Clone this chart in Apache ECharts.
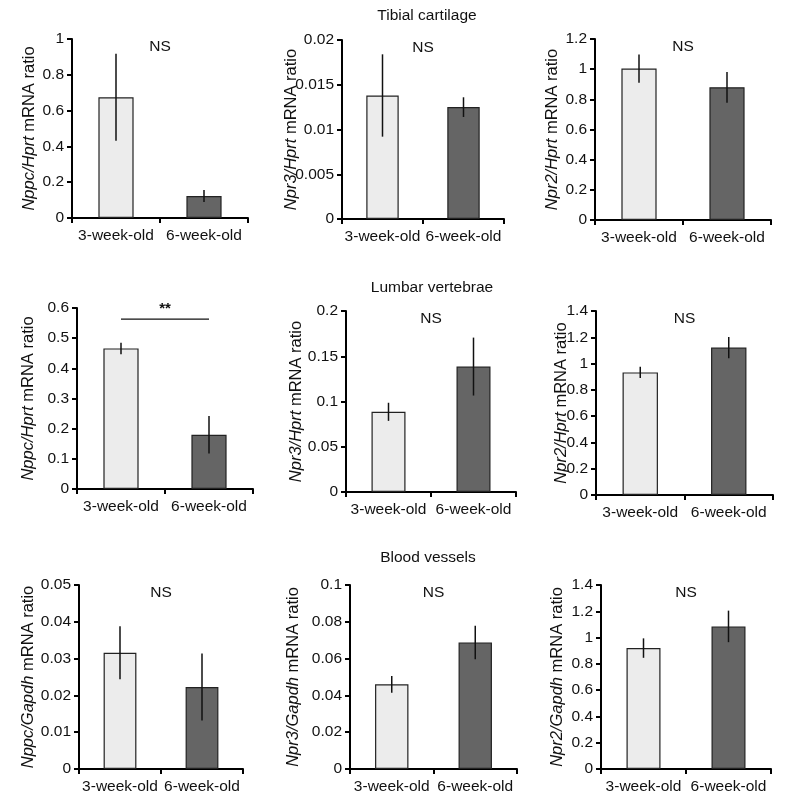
<!DOCTYPE html>
<html>
<head>
<meta charset="utf-8">
<script src="https://cdn.jsdelivr.net/npm/echarts@6/dist/echarts.min.js"></script>
<style>
  html, body { margin: 0; padding: 0; background: #fff; }
  #main { width: 787px; height: 807px; }
</style>
</head>
<body>
<div id="main"></div>
<script>
var categories = ['3-week-old', '6-week-old'];

// Tibial cartilage
var tibNppc = [0.674, 0.123];     var tibNppcErr = [0.243, 0.033];
var tibNpr3 = [0.0138, 0.0125];   var tibNpr3Err = [0.0046, 0.0011];
var tibNpr2 = [1.004, 0.880];     var tibNpr2Err = [0.094, 0.102];
// Lumbar vertebrae
var lumNppc = [0.466, 0.180];     var lumNppcErr = [0.019, 0.062];
var lumNpr3 = [0.0886, 0.1386];   var lumNpr3Err = [0.010, 0.032];
var lumNpr2 = [0.933, 1.122];     var lumNpr2Err = [0.043, 0.081];
// Blood vessels
var bvNppc = [0.0316, 0.0223];    var bvNppcErr = [0.0072, 0.0091];
var bvNpr3 = [0.0460, 0.0688];    var bvNpr3Err = [0.0046, 0.0091];
var bvNpr2 = [0.920, 1.085];      var bvNpr2Err = [0.074, 0.120];

var yMax = [1, 0.02, 1.2, 0.6, 0.2, 1.4, 0.05, 0.1, 1.4];
var yStep = [0.2, 0.005, 0.2, 0.1, 0.05, 0.2, 0.01, 0.02, 0.2];
var genes = ['Nppc/Hprt', 'Npr3/Hprt', 'Npr2/Hprt', 'Nppc/Hprt', 'Npr3/Hprt', 'Npr2/Hprt', 'Nppc/Gapdh', 'Npr3/Gapdh', 'Npr2/Gapdh'];
var sigText = ['NS', 'NS', 'NS', '**', 'NS', 'NS', 'NS', 'NS', 'NS'];
var sigLevel = 0.563; // bracket height, lumbar Nppc panel

var means = [tibNppc, tibNpr3, tibNpr2, lumNppc, lumNpr3, lumNpr2, bvNppc, bvNpr3, bvNpr2];
var errs = [tibNppcErr, tibNpr3Err, tibNpr2Err, lumNppcErr, lumNpr3Err, lumNpr2Err, bvNppcErr, bvNpr3Err, bvNpr2Err];

// layout of each panel [left, top, width, height]
var boxes = [
  [72, 39, 176, 179], [342, 40, 162, 179], [595, 39, 176, 181],
  [77, 308, 176, 181], [346, 311, 170, 181], [596, 311, 177, 184],
  [79, 585, 164, 184], [350, 585, 167, 184], [601, 585, 170, 184]
];
var nameGaps = [34, 42, 34, 40, 41, 26, 42, 48, 35];

var font = 'Liberation Sans, Arial, sans-serif';
var grids = [], xAxes = [], yAxes = [], series = [], titles = [];

titles.push({ text: 'Tibial cartilage', left: 422, top: 3, textAlign: 'center' });
titles.push({ text: 'Lumbar vertebrae', left: 427, top: 275, textAlign: 'center' });
titles.push({ text: 'Blood vessels', left: 423, top: 545, textAlign: 'center' });

for (var i = 0; i < 9; i++) {
  var b = boxes[i];
  grids.push({ left: b[0], top: b[1], width: b[2], height: b[3], containLabel: false });
  xAxes.push({
    type: 'category', gridIndex: i, data: categories,
    axisLine: { lineStyle: { color: '#000', width: 2 } },
    axisTick: { show: true, length: 5, lineStyle: { color: '#000', width: 2 }, alignWithLabel: false },
    axisLabel: { color: '#111', fontSize: 15.5, fontFamily: font, margin: 10, interval: 0, hideOverlap: false }
  });
  yAxes.push({
    type: 'value', gridIndex: i, min: 0, max: yMax[i], interval: yStep[i],
    splitLine: { show: false },
    axisLine: { show: true, lineStyle: { color: '#000', width: 2 } },
    axisTick: { show: true, length: 5, lineStyle: { color: '#000', width: 2 } },
    axisLabel: { color: '#111', fontSize: 15.5, fontFamily: font, margin: 8 },
    name: '{i|' + genes[i] + '} mRNA ratio',
    nameLocation: 'middle', nameGap: nameGaps[i], nameMoveOverlap: false,
    nameTextStyle: {
      color: '#111', fontSize: 16.5, fontFamily: font,
      rich: { i: { fontStyle: 'italic', fontSize: 16.5, fontFamily: font, color: '#111' } }
    }
  });
  series.push({
    type: 'bar', xAxisIndex: i, yAxisIndex: i, barWidth: '40%',
    data: means[i].map(function (v, k) {
      return { value: v, itemStyle: { color: k === 0 ? '#ececec' : '#656565', borderColor: '#222', borderWidth: 1.2 } };
    })
  });
  series.push({
    type: 'custom', xAxisIndex: i, yAxisIndex: i, z: 5,
    data: means[i].map(function (v, k) { return [k, v - errs[i][k], v + errs[i][k]]; }),
    renderItem: function (params, api) {
      var lo = api.coord([api.value(0), api.value(1)]);
      var hi = api.coord([api.value(0), api.value(2)]);
      return { type: 'line', shape: { x1: lo[0], y1: lo[1], x2: hi[0], y2: hi[1] }, style: { stroke: '#111', lineWidth: 1.5 } };
    }
  });
  // significance annotation
  var sigData = sigText[i] === '**' ? [[0, 1, sigLevel]] : [[0.5, 0.5, yMax[i]]];
  (function (txt) {
    series.push({
      type: 'custom', xAxisIndex: i, yAxisIndex: i, z: 6, silent: true,
      data: sigData,
      renderItem: function (params, api) {
        var y = api.value(2);
        var p1 = api.coord([api.value(0), y]);
        var p2 = api.coord([api.value(1), y]);
        var children = [];
        if (txt === '**') {
          children.push({ type: 'line', shape: { x1: p1[0], y1: p1[1], x2: p2[0], y2: p2[1] }, style: { stroke: '#111', lineWidth: 1.2 } });
          children.push({ type: 'text', style: { text: '**', x: (p1[0] + p2[0]) / 2, y: p1[1] - 3, textAlign: 'center', textVerticalAlign: 'bottom', font: 'bold 15px ' + font, fill: '#111' } });
        } else {
          var cx = (params.coordSys.x + params.coordSys.width / 2);
          children.push({ type: 'text', style: { text: txt, x: cx, y: p1[1] + 8, textAlign: 'center', textVerticalAlign: 'middle', font: '15.5px ' + font, fill: '#111' } });
        }
        return { type: 'group', children: children };
      }
    });
  })(sigText[i]);
}

var chart = echarts.init(document.getElementById('main'), null, { renderer: 'canvas' });
chart.setOption({
  backgroundColor: '#fff',
  animation: false,
  title: titles.map(function (t) {
    t.textStyle = { fontSize: 15.5, fontWeight: 'normal', color: '#111', fontFamily: font };
    return t;
  }),
  grid: grids,
  xAxis: xAxes,
  yAxis: yAxes,
  series: series
});
</script>
</body>
</html>
